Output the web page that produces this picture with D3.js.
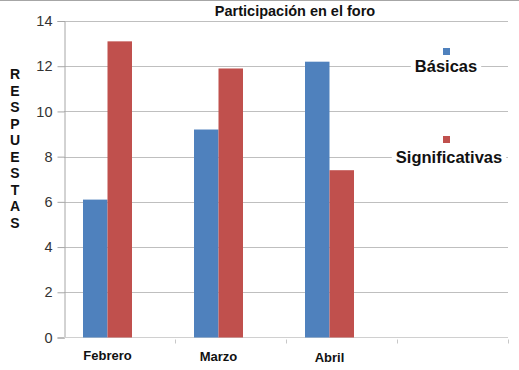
<!DOCTYPE html>
<html>
<head>
<meta charset="utf-8">
<script src="https://cdn.jsdelivr.net/npm/d3@7"></script>
<style>
  body { margin: 0; background: #fff; }
  svg { display: block; font-family: "Liberation Sans", Arial, sans-serif; }
</style>
</head>
<body>
<div id="chart"></div>
<script>
// chart data
const months = ['Febrero', 'Marzo', 'Abril', ''];
const seriesNames = ['Básicas', 'Significativas'];
const basicas = [6.1, 9.2, 12.2];
const significativas = [13.1, 11.9, 7.4];
const yTicks = [0, 2, 4, 6, 8, 10, 12, 14];
const colors = ['#4f81bd', '#c0504d'];

const width = 519;
const height = 370;
const margin = { top: 21, right: 11, bottom: 32, left: 64 };

const svg = d3.select('#chart')
  .append('svg')
  .attr('width', width)
  .attr('height', height);

// thin frame line at top
svg.append('line')
  .attr('x1', 0).attr('x2', width)
  .attr('y1', 0.5).attr('y2', 0.5)
  .attr('stroke', '#a6a6a6');

const x = d3.scaleBand()
  .domain(months)
  .range([margin.left, width - margin.right]);

const y = d3.scaleLinear()
  .domain([0, 14])
  .range([height - margin.bottom - 0.5, margin.top]);

// the bar pair sits a bit left of the band centre in the original
const xInner = d3.scaleBand()
  .domain(seriesNames)
  .range([19, 68]);

// gridlines
svg.append('g')
  .selectAll('line')
  .data(yTicks.filter(d => d > 0))
  .join('line')
  .attr('x1', margin.left)
  .attr('x2', width - margin.right)
  .attr('y1', d => Math.round(y(d)) + 0.5)
  .attr('y2', d => Math.round(y(d)) + 0.5)
  .attr('stroke', '#bfbfbf');

// y axis
const yAxis = svg.append('g')
  .attr('transform', `translate(${margin.left + 0.5},0)`)
  .call(d3.axisLeft(y).tickValues(yTicks).tickSize(7).tickPadding(5));
yAxis.select('.domain').attr('stroke', '#a6a6a6');
yAxis.selectAll('.tick line').attr('stroke', '#a6a6a6');
yAxis.selectAll('.tick text')
  .attr('fill', '#333')
  .style('font-size', '14.5px')
  .style('font-family', '"Liberation Sans", Arial, sans-serif');

// x axis: small ticks at band boundaries
const x0 = y(0);
svg.append('line')
  .attr('x1', margin.left).attr('x2', width - margin.right)
  .attr('y1', x0).attr('y2', x0)
  .attr('stroke', '#d0d0d0');
svg.append('g')
  .selectAll('line')
  .data(months.map((m, i) => i + 1))
  .join('line')
  .attr('x1', i => Math.round(margin.left + i * x.bandwidth()) + 0.5)
  .attr('x2', i => Math.round(margin.left + i * x.bandwidth()) + 0.5)
  .attr('y1', x0 + 2)
  .attr('y2', x0 + 6)
  .attr('stroke', '#c8c8c8');

// bars
const rows = months.slice(0, 3).map((m, i) => ({ month: m, values: [basicas[i], significativas[i]] }));
const groups = svg.append('g')
  .selectAll('g')
  .data(rows)
  .join('g')
  .attr('transform', d => `translate(${x(d.month)},0)`);

groups.selectAll('rect')
  .data(d => d.values.map((v, j) => ({ name: seriesNames[j], value: v, j })))
  .join('rect')
  .attr('x', d => xInner(d.name))
  .attr('width', xInner.bandwidth())
  .attr('y', d => y(d.value))
  .attr('height', d => y(0) - y(d.value))
  .attr('fill', d => colors[d.j]);

// category labels under the bars
groups.append('text')
  .attr('x', xInner(seriesNames[1]))
  .attr('y', (d, i) => 360 + i)
  .attr('text-anchor', 'middle')
  .style('font-size', '13px')
  .style('font-weight', 'bold')
  .attr('fill', '#111')
  .text(d => d.month);

// title
svg.append('text')
  .attr('x', 295)
  .attr('y', 16)
  .attr('text-anchor', 'middle')
  .style('font-size', '14.5px')
  .style('font-weight', 'bold')
  .attr('fill', '#111')
  .text('Participación en el foro');

// vertical y label, letters stacked
const yLabel = 'RESPUESTAS';
svg.append('g')
  .selectAll('text')
  .data(yLabel.split(''))
  .join('text')
  .attr('x', 15)
  .attr('y', (d, i) => 79 + i * 16.5)
  .attr('text-anchor', 'middle')
  .style('font-size', '14px')
  .style('font-weight', 'bold')
  .attr('fill', '#111')
  .text(d => d);

// legend inside the plot
const legendPos = [{ sx: 443, sy: 48, tx: 446, ty: 72 }, { sx: 443, sy: 136, tx: 449, ty: 163 }];
const legend = svg.append('g')
  .selectAll('g')
  .data(seriesNames)
  .join('g');

legend.append('rect')
  .attr('x', (d, i) => legendPos[i].sx)
  .attr('y', (d, i) => legendPos[i].sy)
  .attr('width', 7)
  .attr('height', 7)
  .attr('fill', (d, i) => colors[i]);

legend.each(function(d, i) {
  const g = d3.select(this);
  const t = g.append('text')
    .attr('x', legendPos[i].tx)
    .attr('y', legendPos[i].ty)
    .attr('text-anchor', 'middle')
    .style('font-size', '16.5px')
    .style('font-weight', 'bold')
    .attr('fill', '#111')
    .text(d);
  const bb = t.node().getBBox();
  g.insert('rect', 'text')
    .attr('x', bb.x - 4)
    .attr('y', bb.y)
    .attr('width', bb.width + 8)
    .attr('height', bb.height)
    .attr('fill', '#fff');
});
</script>
</body>
</html>
